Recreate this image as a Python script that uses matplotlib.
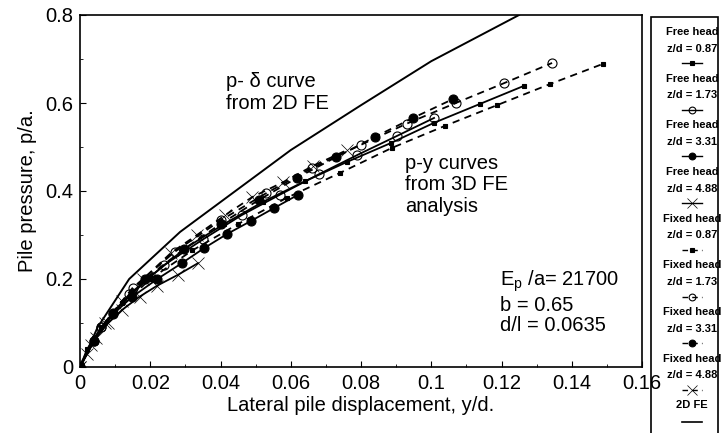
import matplotlib
matplotlib.use("Agg")
import matplotlib.pyplot as plt
from matplotlib.lines import Line2D
from matplotlib.patches import Rectangle

plt.rcParams['font.family'] = ['Liberation Sans', 'DejaVu Sans']

# 2D FE p-delta curve
fe2d_x = [0, 0.005, 0.014, 0.0285, 0.06, 0.08, 0.1, 0.125]
fe2d_y = [0, 0.09, 0.2, 0.307, 0.493, 0.595, 0.695, 0.8]

# p-y curves from 3D FE
free087_x = [0, 0.002, 0.006, 0.012, 0.02, 0.03, 0.041, 0.052, 0.064, 0.076, 0.0885, 0.1008, 0.1139, 0.1264]
free087_y = [0, 0.04, 0.09, 0.145, 0.205, 0.27, 0.325, 0.375, 0.422, 0.466, 0.509, 0.555, 0.598, 0.639]

free173_x = [0, 0.006, 0.014, 0.024, 0.035, 0.046, 0.057, 0.068, 0.079, 0.0902, 0.1008]
free173_y = [0, 0.09, 0.165, 0.232, 0.29, 0.345, 0.392, 0.438, 0.482, 0.525, 0.566]

free331_x = [0, 0.004, 0.0094, 0.0148, 0.022, 0.029, 0.0353, 0.0418, 0.0487, 0.0552, 0.062]
free331_y = [0, 0.06, 0.12, 0.159, 0.2, 0.236, 0.27, 0.302, 0.332, 0.361, 0.391]

free488_x = [0, 0.002, 0.0045, 0.008, 0.012, 0.017, 0.022, 0.028, 0.0336]
free488_y = [0, 0.03, 0.065, 0.1, 0.13, 0.16, 0.185, 0.21, 0.236]

fixed087_x = [0, 0.004, 0.01, 0.02, 0.032, 0.045, 0.059, 0.074, 0.0888, 0.1039, 0.1187, 0.1338, 0.1489]
fixed087_y = [0, 0.065, 0.125, 0.2, 0.265, 0.325, 0.385, 0.441, 0.498, 0.548, 0.595, 0.643, 0.689]

fixed173_x = [0, 0.006, 0.015, 0.027, 0.04, 0.053, 0.066, 0.08, 0.093, 0.107, 0.1207, 0.1344]
fixed173_y = [0, 0.09, 0.18, 0.262, 0.333, 0.395, 0.452, 0.505, 0.553, 0.6, 0.645, 0.691]

fixed331_x = [0, 0.004, 0.0094, 0.0185, 0.0296, 0.04, 0.051, 0.0618, 0.0729, 0.084, 0.0948, 0.1062]
fixed331_y = [0, 0.06, 0.123, 0.2, 0.268, 0.325, 0.38, 0.43, 0.477, 0.523, 0.566, 0.609]

fixed488_x = [0, 0.003, 0.007, 0.012, 0.018, 0.026, 0.0333, 0.0413, 0.049, 0.0578, 0.0663, 0.076]
fixed488_y = [0, 0.05, 0.1, 0.15, 0.2, 0.26, 0.3, 0.345, 0.386, 0.42, 0.457, 0.493]

legend_labels = ["Free head\nz/d = 0.87", "Free head\nz/d = 1.73", "Free head\nz/d = 3.31",
                 "Free head\nz/d = 4.88", "Fixed head\nz/d = 0.87", "Fixed head\nz/d = 1.73",
                 "Fixed head\nz/d = 3.31", "Fixed head\nz/d = 4.88", "2D FE"]

x_ticks = [0, 0.02, 0.04, 0.06, 0.08, 0.1, 0.12, 0.14, 0.16]
x_ticklabels = ["0", "0.02", "0.04", "0.06", "0.08", "0.1", "0.12", "0.14", "0.16"]
y_ticks = [0, 0.2, 0.4, 0.6, 0.8]
y_ticklabels = ["0", "0.2", "0.4", "0.6", "0.8"]

fig = plt.figure(figsize=(7.21, 4.33), dpi=100)
ax = fig.add_axes([80/721, 1 - 367/433, 562/721, 352/433])

dash = (0, (4, 3))
styles = [
    dict(ls='-', marker='s', ms=3, mfc='k'),
    dict(ls='-', marker='o', ms=6.5, mfc='none'),
    dict(ls='-', marker='o', ms=6.5, mfc='k'),
    dict(ls='-', marker='x', ms=9, mew=0.5),
    dict(ls=dash, marker='s', ms=3, mfc='k'),
    dict(ls=dash, marker='o', ms=6.5, mfc='none'),
    dict(ls=dash, marker='o', ms=6.5, mfc='k'),
    dict(ls=dash, marker='x', ms=9, mew=0.5),
]
series = [(free087_x, free087_y), (free173_x, free173_y), (free331_x, free331_y),
          (free488_x, free488_y), (fixed087_x, fixed087_y), (fixed173_x, fixed173_y),
          (fixed331_x, fixed331_y), (fixed488_x, fixed488_y)]

for (xs, ys), st in zip(series, styles):
    st = dict(st)
    ax.plot(xs, ys, color='k', lw=1.3, mec='k', mew=st.pop('mew', 0.8), **st)

ax.plot(fe2d_x, fe2d_y, color='k', lw=1.4)

ax.set_xlim(0, 0.16)
ax.set_ylim(0, 0.8)
ax.set_xticks(x_ticks)
ax.set_xticklabels(x_ticklabels)
ax.set_yticks(y_ticks)
ax.set_yticklabels(y_ticklabels)
ax.set_xticks([0.01, 0.03, 0.05, 0.07, 0.09, 0.11, 0.13, 0.15], minor=True)
ax.set_yticks([0.1, 0.3, 0.5, 0.7], minor=True)
ax.tick_params(direction='in', labelsize=14.5, length=4, width=0.8, pad=5)
ax.tick_params(which='minor', direction='in', length=2, width=0.6)
for s in ax.spines.values():
    s.set_linewidth(1.2)

ax.set_xlabel("Lateral pile displacement, y/d.", fontsize=14.5, labelpad=2)
ax.set_ylabel("Pile pressure, p/a.", fontsize=14.5, labelpad=6)

ax.text(0.0415, 0.624, "p- δ curve\nfrom 2D FE", fontsize=14.5, va='center', linespacing=1.15)
ax.text(0.0925, 0.414, "p-y curves\nfrom 3D FE\nanalysis", fontsize=14.5, va='center', linespacing=1.15)
ax.text(0.1195, 0.148, "E$_\\mathregular{p}$ /a= 21700\nb = 0.65\nd/l = 0.0635", fontsize=14.5,
        va='center', linespacing=1.12)

# legend box on the right
fig.patches.append(Rectangle((651/721, -0.01), 67/721, 1 - 17/433 + 0.01, transform=fig.transFigure,
                             fill=False, ec='k', lw=1.2))
cx = 692/721
for i, lab in enumerate(legend_labels):
    top = 32 + i*46.7
    if i < 8:
        head, zd = lab.split("\n")
        fig.text(cx, 1 - top/433, head, ha='center', va='center', fontsize=8, weight='bold')
        fig.text(cx, 1 - (top + 16.5)/433, zd, ha='center', va='center', fontsize=8, weight='bold')
        st = dict(styles[i])
        st['ms'] = st['ms'] * 0.75
        mew = st.pop('mew', 0.8)
        yl = 1 - (top + 31)/433
        fig.add_artist(Line2D([682/721, 692/721, 702/721], [yl, yl, yl], transform=fig.transFigure,
                              color='k', lw=1.0, markevery=[1], mec='k', mew=mew, **st))
    else:
        fig.text(cx, 1 - (top - 1)/433, lab, ha='center', va='center', fontsize=8, weight='bold')
        yl = 1 - (top + 16)/433
        fig.add_artist(Line2D([682/721, 702/721], [yl, yl], transform=fig.transFigure, color='k', lw=1.2))

fig.savefig("out.png", dpi=100)
